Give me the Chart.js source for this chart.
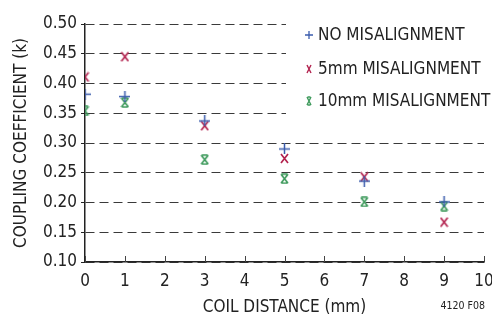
<!DOCTYPE html>
<html>
<head>
<meta charset="utf-8">
<script src="https://cdn.jsdelivr.net/npm/chart.js@4.4.1/dist/chart.umd.min.js"></script>
<style>
html,body{margin:0;padding:0;background:#fff;}
#wrap{position:relative;width:492px;height:314px;}
</style>
</head>
<body>
<div id="wrap"><canvas id="c" width="492" height="314"></canvas></div>
<script>
// ---- data ----
const coilDistance = [0, 1, 3, 5, 7, 9];
const noMisalignment = [0.382, 0.378, 0.337, 0.290, 0.236, 0.201];
const mis5mm = [0.411, 0.445, 0.329, 0.274, 0.243, 0.167];
const mis10mm = [0.354, 0.368, 0.272, 0.240, 0.201, 0.194];
const seriesNames = ['NO MISALIGNMENT', '5mm MISALIGNMENT', '10mm MISALIGNMENT'];
const xTickLabels = ['0','1','2','3','4','5','6','7','8','9','10'];
const yTickLabels = ['0.10','0.15','0.20','0.25','0.30','0.35','0.40','0.45','0.50'];
const xTitle = 'COIL DISTANCE (mm)';
const yTitle = 'COUPLING COEFFICIENT (k)';
const figNote = '4120 F08';

const FONT = '"DejaVu Sans Condensed", "Liberation Sans Narrow", sans-serif';
const TXT = '#222';
const BLUE = '#3b5cad', RED = '#b3234f', GREEN = '#3e9a5c';

function marker(kind, color, w, h, lw) {
  const c = document.createElement('canvas');
  c.width = w; c.height = h;
  const g = c.getContext('2d');
  g.strokeStyle = color; g.lineWidth = lw; g.lineCap = 'butt';
  g.beginPath();
  if (kind === 'plus') {
    g.moveTo(0, h/2); g.lineTo(w, h/2);
    g.moveTo(w/2, 0); g.lineTo(w/2, h);
  } else {
    g.moveTo(1, 1); g.lineTo(w-1, h-1);
    g.moveTo(w-1, 1); g.lineTo(1, h-1);
    if (kind === 'xbar') {
      g.moveTo(1.5, 1); g.lineTo(w-1.5, 1);
      g.moveTo(1.5, h-1); g.lineTo(w-1.5, h-1);
    }
  }
  g.stroke();
  return c;
}
const mBlue = marker('plus', BLUE, 11, 11, 1.5);
const mRed = marker('x', RED, 9, 11, 1.7);
const mGreen = marker('xbar', GREEN, 9, 11, 1.7);
const lBlue = marker('plus', BLUE, 8, 8, 1.3);
const lRed = marker('x', RED, 6, 10, 1.4);
const lGreen = marker('xbar', GREEN, 6, 10, 1.4);

function pts(ys) { return coilDistance.map((x, i) => ({x: x, y: ys[i]})); }

const legendPlugin = {
  id: 'customLegend',
  beforeDatasetsDraw(chart) {
    const ctx = chart.ctx;
    ctx.save();
    ctx.fillStyle = '#fff';
    ctx.fillRect(286, 14, 206, 110);
    ctx.restore();
  },
  afterDraw(chart) {
    const ctx = chart.ctx;
    const xs = chart.scales.x;
    ctx.save();
    // inner x ticks
    ctx.strokeStyle = '#444'; ctx.lineWidth = 1;
    for (let i = 0; i < xTickLabels.length; i++) {
      const px = Math.round(xs.getPixelForValue(i)) + 0.5;
      ctx.beginPath(); ctx.moveTo(px, chart.chartArea.bottom); ctx.lineTo(px, chart.chartArea.bottom - 6); ctx.stroke();
    }
    // legend
    const rows = [34.5, 68.5, 101];
    const imgs = [lBlue, lRed, lGreen];
    ctx.font = '17px ' + FONT;
    ctx.fillStyle = TXT;
    ctx.textBaseline = 'middle';
    ctx.textAlign = 'left';
    for (let i = 0; i < 3; i++) {
      const im = imgs[i];
      ctx.drawImage(im, Math.round(308.5 - im.width/2), Math.round(rows[i] - im.height/2));
      ctx.fillText(seriesNames[i], 318, rows[i] + 1);
    }
    // figure note
    ctx.font = '10.5px ' + FONT;
    ctx.textAlign = 'right';
    ctx.fillText(figNote, 485, 306);
    ctx.restore();
  }
};

new Chart(document.getElementById('c'), {
  type: 'scatter',
  data: {
    datasets: [
      {label: seriesNames[0], data: pts(noMisalignment), pointStyle: mBlue, pointRadius: 6, borderColor: BLUE, backgroundColor: BLUE},
      {label: seriesNames[1], data: pts(mis5mm), pointStyle: mRed, pointRadius: 6, borderColor: RED, backgroundColor: RED},
      {label: seriesNames[2], data: pts(mis10mm), pointStyle: mGreen, pointRadius: 6, borderColor: GREEN, backgroundColor: GREEN}
    ]
  },
  options: {
    responsive: false,
    animation: false,
    events: [],
    layout: {padding: {top: 24, right: 8, left: 0, bottom: 0}},
    plugins: {legend: {display: false}, tooltip: {enabled: false}},
    scales: {
      x: {
        type: 'linear', min: 0, max: 10,
        afterBuildTicks(s) { s.ticks = xTickLabels.map(v => ({value: +v})); },
        afterFit(s) { s.height = 52; s.paddingRight = 0; s.paddingLeft = 0; },
        ticks: {callback: (v, i) => xTickLabels[i], color: TXT, font: {family: FONT, size: 17}, padding: 9, maxRotation: 0},
        grid: {display: true, drawOnChartArea: false, drawTicks: false},
        border: {display: true, color: '#222', width: 1.5},
        title: {display: true, text: xTitle, color: TXT, font: {family: FONT, size: 17, lineHeight: 1}, padding: {top: 0, bottom: -2}}
      },
      y: {
        type: 'linear', min: 0.10, max: 0.50,
        afterBuildTicks(s) { s.ticks = yTickLabels.map(v => ({value: +v})); },
        afterFit(s) { s.width = 85; },
        ticks: {callback: (v, i) => yTickLabels[i], color: TXT, font: {family: FONT, size: 17}, padding: 4},
        grid: {color: '#3a3a3a', lineWidth: 1, drawTicks: true, tickLength: 4, tickColor: '#222', tickWidth: 1, tickBorderDash: []},
        border: {display: true, color: '#222', width: 1.5, dash: [9, 5]},
        title: {display: true, text: yTitle, color: TXT, font: {family: FONT, size: 17, lineHeight: 1}, padding: {top: 13, bottom: 0}}
      }
    }
  },
  plugins: [legendPlugin]
});
</script>
</body>
</html>
